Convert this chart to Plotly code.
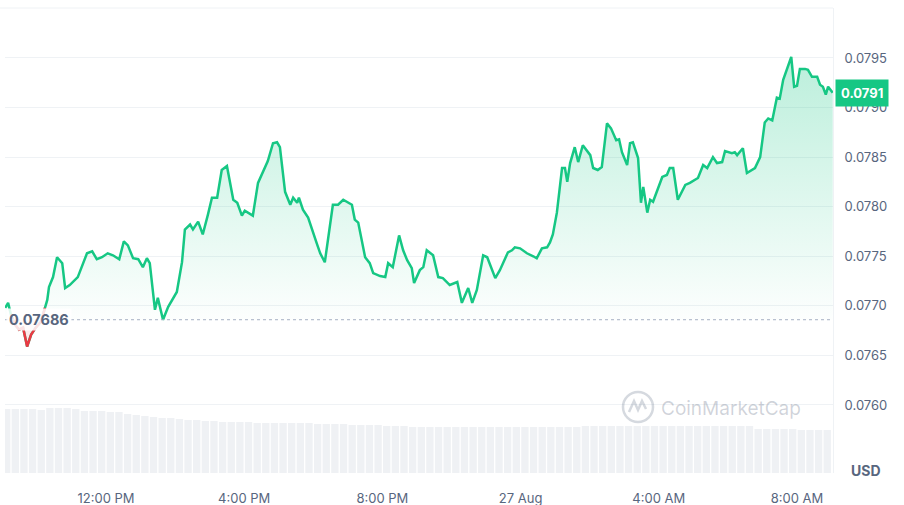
import numpy as np
import pandas as pd
import plotly.graph_objects as go

# minutes after 09:00 on 26 Aug
minutes = [5, 10, 15, 22, 29, 36, 43, 50, 58, 67, 74, 78, 81, 88, 95, 104, 109, 117, 131, 147,
           156, 164, 173, 183, 192, 203, 211, 218, 227, 236, 244, 251, 256, 265, 270, 279, 288,
           303, 312, 317, 326, 331, 340, 348, 357, 364, 373, 381, 390, 395, 401, 408, 416, 421,
           435, 444, 453, 461, 470, 477, 482, 491, 500, 505, 512, 515, 522, 531, 546, 552, 560,
           574, 583, 592, 607, 612, 618, 630, 638, 644, 656, 665, 670, 678, 689, 696, 703, 711,
           715, 725, 731, 737, 748, 757, 765, 777, 790, 798, 809, 816, 824, 835, 842, 856, 864,
           878, 885, 890, 899, 911, 922, 928, 937, 946, 951, 956, 963, 972, 977, 981, 986, 994,
           1000, 1008, 1021, 1026, 1034, 1041, 1050, 1057, 1066, 1071, 1076, 1085, 1090, 1095,
           1104, 1109, 1113, 1120, 1125, 1130, 1146, 1154, 1159, 1165, 1173, 1186, 1194, 1208,
           1217, 1224, 1234, 1241, 1250, 1255, 1267, 1272, 1276, 1286, 1293, 1302, 1307, 1316,
           1324, 1330, 1337, 1345, 1350, 1356, 1370, 1375, 1380, 1385, 1394, 1399, 1406, 1415,
           1420, 1425, 1430, 1434, 1442]
price = [0.07698, 0.07703, 0.07691, 0.07681, 0.07676, 0.07678, 0.07659, 0.07671, 0.07678, 0.07684,
         0.07698, 0.07706, 0.07719, 0.07729, 0.07749, 0.07743, 0.07718, 0.07721, 0.07729, 0.07753,
         0.07755, 0.07747, 0.07749, 0.07753, 0.07751, 0.07747, 0.07765, 0.07761, 0.07748, 0.07747,
         0.07739, 0.07748, 0.07743, 0.07696, 0.07708, 0.07686, 0.07699, 0.07714, 0.07744, 0.07777,
         0.07782, 0.07777, 0.07785, 0.07772, 0.07792, 0.07809, 0.07809, 0.07837, 0.07841, 0.07827,
         0.07807, 0.07804, 0.07791, 0.07796, 0.07791, 0.07824, 0.07835, 0.07846, 0.07864, 0.07865,
         0.07860, 0.07815, 0.07802, 0.07809, 0.07804, 0.07809, 0.07797, 0.07789, 0.07763, 0.07753,
         0.07744, 0.07802, 0.07802, 0.07807, 0.07802, 0.07787, 0.07784, 0.07749, 0.07743, 0.07733,
         0.07730, 0.07729, 0.07743, 0.07739, 0.07771, 0.07756, 0.07746, 0.07738, 0.07723, 0.07736,
         0.07739, 0.07756, 0.07751, 0.07729, 0.07728, 0.07721, 0.07724, 0.07703, 0.07718, 0.07703,
         0.07716, 0.07751, 0.07749, 0.07728, 0.07736, 0.07754, 0.07756, 0.07759, 0.07758, 0.07753,
         0.07750, 0.07748, 0.07758, 0.07759, 0.07764, 0.07772, 0.07794, 0.07839, 0.07839, 0.07825,
         0.07844, 0.07860, 0.07845, 0.07862, 0.07852, 0.07839, 0.07837, 0.07840, 0.07884, 0.07879,
         0.07867, 0.07868, 0.07855, 0.07842, 0.07864, 0.07865, 0.07849, 0.07804, 0.07820, 0.07794,
         0.07807, 0.07805, 0.07830, 0.07832, 0.07839, 0.07839, 0.07807, 0.07822, 0.07824, 0.07829,
         0.07842, 0.07839, 0.07850, 0.07844, 0.07845, 0.07856, 0.07854, 0.07855, 0.07852, 0.07859,
         0.07834, 0.07837, 0.07839, 0.07850, 0.07885, 0.07889, 0.07887, 0.07910, 0.07909, 0.07928,
         0.07951, 0.07921, 0.07922, 0.07939, 0.07939, 0.07938, 0.07931, 0.07931, 0.07923, 0.07921,
         0.07913, 0.07921, 0.07915]

# 15-minute volume bars, millions USD
volume = [44.8, 44.8, 44.8, 44.8, 44.1, 45.5, 45.5, 45.5, 44.8, 43.4, 43.4, 43.4, 42.7, 42.7,
          41.3, 40.6, 39.9, 39.2, 38.5, 38.5, 37.8, 37.1, 37.1, 36.4, 36.4, 35.7, 35.7, 35.7,
          35.7, 35.0, 35.0, 35.0, 35.0, 35.0, 35.0, 35.0, 34.3, 34.3, 34.3, 34.3, 33.6, 33.6,
          33.6, 33.6, 32.9, 32.9, 32.9] + [32.2] * 20 + [32.9] * 20 + [30.8] * 5 + [30.1] * 4

open_price = 0.07686
last_price = "0.0791"
y_ticks = [0.0760, 0.0765, 0.0770, 0.0775, 0.0780, 0.0785, 0.0790, 0.0795]
x_ticks = ["2024-08-26 12:00", "2024-08-26 16:00", "2024-08-26 20:00",
           "2024-08-27 00:00", "2024-08-27 04:00", "2024-08-27 08:00"]
x_labels = ["12:00 PM", "4:00 PM", "8:00 PM", "27 Aug", "4:00 AM", "8:00 AM"]

GREEN = "#16c784"
RED = "#ea3943"
GREY = "#58667e"

t0 = pd.Timestamp("2024-08-26 09:00")
times = t0 + pd.to_timedelta(minutes, unit="min")
vol_times = t0 + pd.to_timedelta(7.5 + 15 * np.arange(len(volume)), unit="min")

p = np.array(price)
base = np.full(len(p), open_price)
above = np.maximum(p, open_price)
below = np.minimum(p, open_price)
is_below = p < open_price
red_mask = is_below | np.roll(is_below, 1) | np.roll(is_below, -1)
red_line = np.where(red_mask, p, np.nan)

fig = go.Figure()
fig.add_trace(go.Bar(x=vol_times, y=volume, yaxis="y2", marker_color="#eff1f4",
                     marker_line_width=0, hoverinfo="skip"))
fig.add_trace(go.Scatter(x=times, y=base, mode="lines", line_width=0, hoverinfo="skip"))
fig.add_trace(go.Scatter(x=times, y=above, mode="lines", line_width=0, fill="tonexty",
                         fillgradient=dict(type="vertical", start=open_price, stop=0.0796,
                                           colorscale=[[0, "rgba(22,199,132,0.01)"],
                                                       [1, "rgba(22,199,132,0.30)"]]),
                         hoverinfo="skip"))
fig.add_trace(go.Scatter(x=times, y=base, mode="lines", line_width=0, hoverinfo="skip"))
fig.add_trace(go.Scatter(x=times, y=below, mode="lines", line_width=0, fill="tonexty",
                         fillcolor="rgba(234,57,67,0.10)", hoverinfo="skip"))
fig.add_trace(go.Scatter(x=times, y=price, mode="lines", line=dict(color=GREEN, width=2.5)))
fig.add_trace(go.Scatter(x=times, y=red_line, mode="lines", line=dict(color=RED, width=2.5),
                         connectgaps=False))

fig.update_layout(
    width=904, height=505,
    margin=dict(l=5, r=71, t=8, b=32),
    paper_bgcolor="white", plot_bgcolor="white",
    showlegend=False, bargap=0.15,
    font=dict(family="Inter", size=13, color=GREY),
    xaxis=dict(type="date", range=["2024-08-26 09:04:36", "2024-08-27 09:02:30"],
               tickvals=x_ticks, ticktext=x_labels, showgrid=False, zeroline=False,
               ticks="outside", ticklen=13, tickcolor="rgba(0,0,0,0)", automargin=False),
    yaxis=dict(side="right", range=[0.075314, 0.080004], tickvals=y_ticks, tickformat=".4f",
               gridcolor="#eff2f5", zeroline=False, showline=True, linecolor="#eff2f5",
               ticks="outside", ticklen=8, tickcolor="rgba(0,0,0,0)", automargin=False),
    yaxis2=dict(overlaying="y", range=[0, 325.5], visible=False),
)

# top border and open-price dotted line
fig.add_shape(type="line", xref="paper", yref="paper", x0=-0.006, x1=1, y0=1, y1=1,
              line=dict(color="#eff2f5", width=1))
fig.add_shape(type="line", xref="paper", yref="y", x0=0, x1=1, y0=open_price, y1=open_price,
              line=dict(color="#a6b0c3", width=1, dash="dot"))

# watermark
fig.add_shape(type="circle", xref="paper", yref="paper",
              x0=(623 - 5) / 828, x1=(653 - 5) / 828, y0=(473 - 422) / 465, y1=(473 - 392) / 465,
              line=dict(color="rgba(88,102,126,0.25)", width=2.5))
fig.add_shape(type="path", xref="paper", yref="paper", xsizemode="pixel", ysizemode="pixel",
              xanchor=(638 - 5) / 828, yanchor=(473 - 407) / 465,
              path="M -9,-5 L -4,6 L 0,-3 L 4,6 L 8,-2",
              line=dict(color="rgba(88,102,126,0.25)", width=2.5))
fig.add_annotation(text="CoinMarketCap", xref="paper", yref="paper",
                   x=(659 - 5) / 828, y=(473 - 408) / 465, xanchor="left", yanchor="middle",
                   showarrow=False, font=dict(size=19, color="rgba(88,102,126,0.28)"))

fig.add_annotation(text="<b>0.07686</b>", xref="paper", yref="y", x=0, y=open_price,
                   xanchor="left", yanchor="middle", xshift=1, showarrow=False,
                   bgcolor="rgba(255,255,255,0.85)", borderpad=2,
                   font=dict(size=14.5, color=GREY))
fig.add_annotation(text="<b>" + last_price + "</b>", xref="paper", yref="y", x=1,
                   y=price[-1], xanchor="left", yanchor="middle", xshift=2, showarrow=False,
                   bgcolor=GREEN, borderpad=5, font=dict(size=13, color="white"))
fig.add_annotation(text="<b>USD</b>", xref="paper", yref="paper", x=(866 - 5) / 828,
                   y=(473 - 470) / 465, xanchor="center", yanchor="middle", showarrow=False,
                   font=dict(size=14, color=GREY))

# the page keeps the browser's default 8px body margin; drop it so the figure fills the window
fig.write_html("out.html", config={"displayModeBar": False},
               post_script="document.body.style.margin='0';")
